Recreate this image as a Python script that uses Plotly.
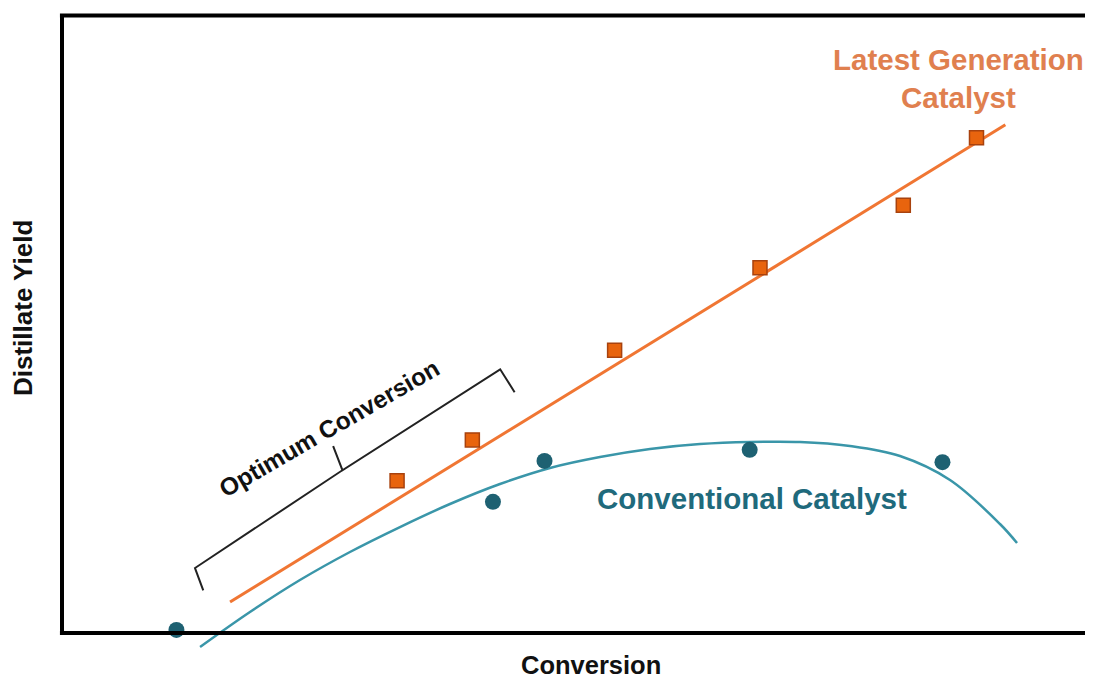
import plotly.graph_objects as go

# ---- data (arbitrary 0-100 units) ----
latest_x = [32.5, 39.8, 53.6, 67.7, 81.6, 88.7]
latest_y = [24.6, 31.2, 45.7, 59.0, 69.1, 80.0]
latest_fit_x = [16.3, 91.5]
latest_fit_y = [5.0, 82.1]

conv_x = [11.1, 41.8, 46.8, 66.7, 85.4]
conv_y = [0.5, 21.2, 27.8, 29.6, 27.6]
conv_curve_x = [13.39, 18.23, 23.08, 27.93, 32.78, 37.63, 42.48, 47.33, 52.18, 57.03,
                61.88, 66.73, 71.58, 76.43, 81.28, 86.13, 90.98, 92.63]
conv_curve_y = [-2.26, 3.39, 8.56, 13.09, 17.12, 20.84, 24.07, 26.66, 28.43, 29.73,
                30.53, 30.86, 30.86, 30.21, 28.59, 24.72, 17.61, 14.54]

bracket_x = [13.7, 12.9, 27.2, 26.3, 27.2, 42.5, 43.9]
bracket_y = [6.9, 10.5, 26.3, 30.2, 26.3, 42.6, 38.9]

x_title = "Conversion"
y_title = "Distillate Yield"
latest_label = "Latest Generation<br>Catalyst"
conv_label = "Conventional Catalyst"
bracket_label = "Optimum Conversion"

# ---- layout geometry (page body has an 8px margin) ----
OFF = 8
W, H = 1093 - OFF, 678 - OFF
L, R, T, B = 62 - OFF, 0, 14 - OFF, 10
Y_MIN, Y_MAX = -5.65, 100.0


def px_x(px):
    return (px - OFF - L) / (W - L - R)


def px_y(py):
    return (H - B - (py - OFF)) / (H - T - B)


y0_paper = (0 - Y_MIN) / (Y_MAX - Y_MIN)

FONT = "Liberation Sans, Arial, sans-serif"

fig = go.Figure()

fig.add_trace(go.Scatter(x=bracket_x, y=bracket_y, mode="lines",
                         line=dict(color="#222222", width=2),
                         hoverinfo="skip", showlegend=False))

fig.add_trace(go.Scatter(x=conv_curve_x, y=conv_curve_y, mode="lines",
                         line=dict(color="#3A96A9", width=2.5, shape="spline", smoothing=1.0),
                         hoverinfo="skip", showlegend=False))

fig.add_trace(go.Scatter(x=latest_fit_x, y=latest_fit_y, mode="lines",
                         line=dict(color="#F07633", width=3),
                         hoverinfo="skip", showlegend=False))

fig.add_trace(go.Scatter(x=conv_x, y=conv_y, mode="markers",
                         marker=dict(color="#1E6172", size=16, line=dict(width=0)),
                         cliponaxis=False, showlegend=False))

fig.add_trace(go.Scatter(x=latest_x, y=latest_y, mode="markers",
                         marker=dict(symbol="square", color="#E8640E", size=14,
                                     line=dict(color="#A8420E", width=1.5)),
                         cliponaxis=False, showlegend=False))

# frame: left, bottom, top (no right border)
fig.add_shape(type="line", xref="paper", yref="paper", x0=0, x1=0, y0=y0_paper, y1=px_y(15.5),
              line=dict(color="black", width=4))
fig.add_shape(type="line", xref="paper", yref="paper", x0=-0.002, x1=1, y0=y0_paper, y1=y0_paper,
              line=dict(color="black", width=4))
fig.add_shape(type="line", xref="paper", yref="paper", x0=-0.002, x1=1, y0=px_y(15.5), y1=px_y(15.5),
              line=dict(color="black", width=4))

fig.add_annotation(text=x_title, xref="paper", yref="paper", x=px_x(591), y=px_y(665),
                   showarrow=False, xanchor="center", yanchor="middle",
                   font=dict(family=FONT, size=25.5, color="#111111", weight="bold"))
fig.add_annotation(text=y_title, xref="paper", yref="paper", x=px_x(23), y=px_y(308),
                   showarrow=False, xanchor="center", yanchor="middle", textangle=-90,
                   font=dict(family=FONT, size=26, color="#111111", weight="bold"))
fig.add_annotation(text=latest_label, xref="paper", yref="paper", x=px_x(958), y=px_y(78),
                   showarrow=False, xanchor="center", yanchor="middle", align="center",
                   font=dict(family=FONT, size=29.5, color="#E0804F", weight="bold"))
fig.add_annotation(text=conv_label, xref="paper", yref="paper", x=px_x(752), y=px_y(498),
                   showarrow=False, xanchor="center", yanchor="middle",
                   font=dict(family=FONT, size=29.5, color="#1F6A7C", weight="bold"))
fig.add_annotation(text=bracket_label, xref="paper", yref="paper", x=px_x(329), y=px_y(429),
                   showarrow=False, xanchor="center", yanchor="middle", textangle=-30,
                   font=dict(family=FONT, size=24.5, color="#111111", weight="bold"))

fig.update_layout(
    width=W, height=H,
    margin=dict(l=L, r=R, t=T, b=B),
    paper_bgcolor="white", plot_bgcolor="white",
    xaxis=dict(range=[0, 100], showgrid=False, zeroline=False, showticklabels=False,
               showline=False, ticks="", fixedrange=True),
    yaxis=dict(range=[Y_MIN, Y_MAX], showgrid=False, zeroline=False, showticklabels=False,
               showline=False, ticks="", fixedrange=True),
    showlegend=False,
)

fig.write_html("out.html")
